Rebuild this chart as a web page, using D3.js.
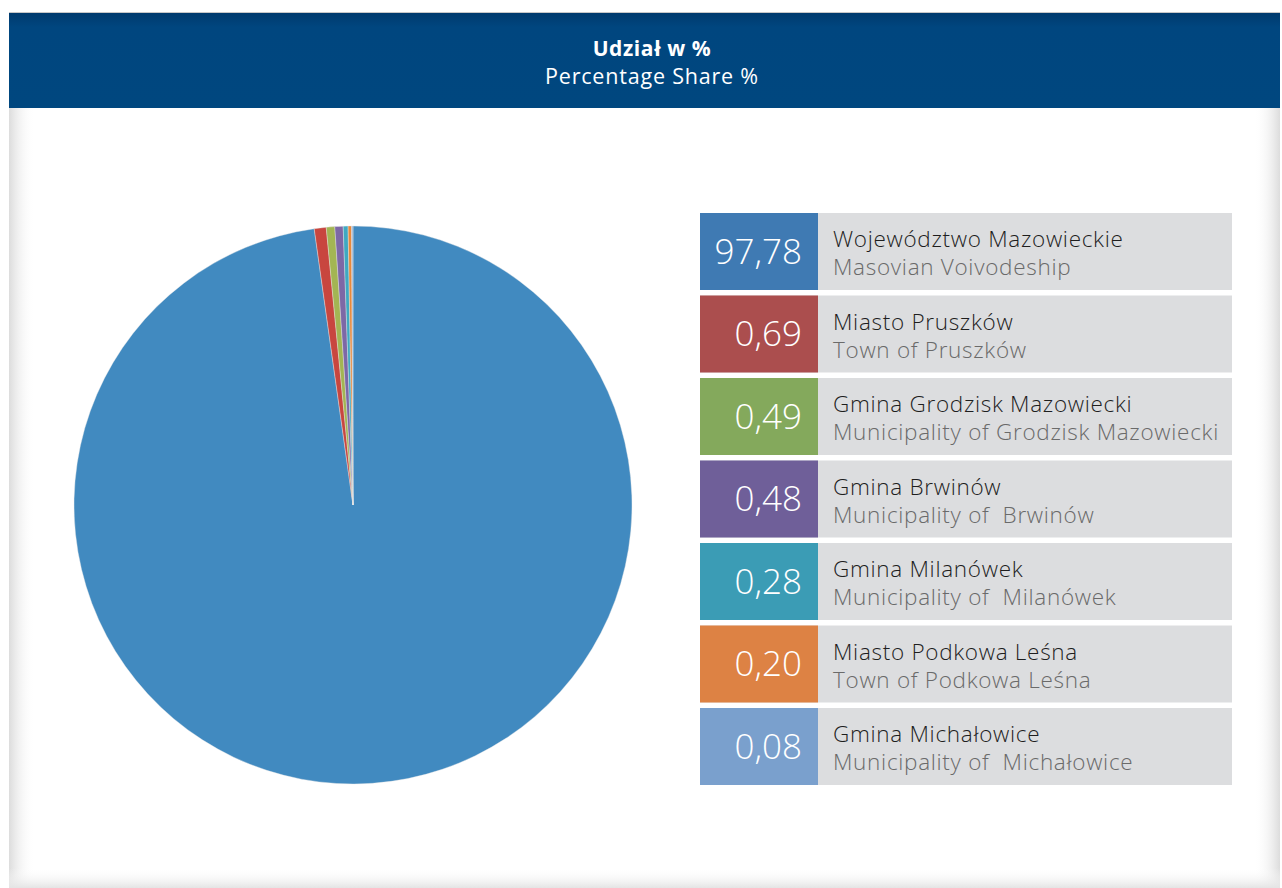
<!DOCTYPE html>
<html>
<head>
<meta charset="utf-8">
<script src="https://cdn.jsdelivr.net/npm/d3@7"></script>
<style>
  html, body { margin: 0; padding: 0; background: #fff; }
  svg { display: block; }
  text { white-space: pre; }
</style>
</head>
<body>
<svg id="chart" width="1282" height="888"></svg>
<script>
const titlePl = "Udział w %";
const titleEn = "Percentage Share %";
const namesPl = ["Województwo Mazowieckie", "Miasto Pruszków", "Gmina Grodzisk Mazowiecki", "Gmina Brwinów", "Gmina Milanówek", "Miasto Podkowa Leśna", "Gmina Michałowice"];
const namesEn = ["Masovian Voivodeship", "Town of Pruszków", "Municipality of Grodzisk Mazowiecki", "Municipality of  Brwinów", "Municipality of  Milanówek", "Town of Podkowa Leśna", "Municipality of  Michałowice"];
const shares = [97.78, 0.69, 0.49, 0.48, 0.28, 0.20, 0.08];
const pieColors = ["#418ac0", "#c8463f", "#a3b553", "#7d68a6", "#3fa9c2", "#e8893b", "#9db6d6"];
const boxColors = ["#3f7ab3", "#ab4e4e", "#84a95c", "#6f5f99", "#3b9cb5", "#dd8244", "#7aa0cd"];

const svg = d3.select("#chart");
const defs = svg.append("defs");

// card shadows
const gl = defs.append("linearGradient").attr("id", "gl").attr("x1", 0).attr("x2", 1).attr("y1", 0).attr("y2", 0);
gl.append("stop").attr("offset", 0).attr("stop-color", "#dcdcdc");
gl.append("stop").attr("offset", 1).attr("stop-color", "#ffffff").attr("stop-opacity", 0);
const gr = defs.append("linearGradient").attr("id", "gr").attr("x1", 1).attr("x2", 0).attr("y1", 0).attr("y2", 0);
gr.append("stop").attr("offset", 0).attr("stop-color", "#dcdcdc");
gr.append("stop").attr("offset", 1).attr("stop-color", "#ffffff").attr("stop-opacity", 0);
const gb = defs.append("linearGradient").attr("id", "gb").attr("x1", 0).attr("x2", 0).attr("y1", 1).attr("y2", 0);
gb.append("stop").attr("offset", 0).attr("stop-color", "#e4e4e4");
gb.append("stop").attr("offset", 1).attr("stop-color", "#ffffff").attr("stop-opacity", 0);
const gh = defs.append("linearGradient").attr("id", "gh").attr("x1", 0).attr("x2", 0).attr("y1", 0).attr("y2", 1);
gh.append("stop").attr("offset", 0).attr("stop-color", "#003a6e");
gh.append("stop").attr("offset", 0.15).attr("stop-color", "#00467f");
gh.append("stop").attr("offset", 1).attr("stop-color", "#00477f");

const cardX = 9, cardR = 1280, cardTop = 13, headB = 108, cardB = 888;
svg.append("rect").attr("x", cardX).attr("y", cardTop).attr("width", cardR - cardX).attr("height", cardB - cardTop).attr("fill", "#fff");
svg.append("rect").attr("x", cardX).attr("y", headB).attr("width", 26).attr("height", cardB - headB).attr("fill", "url(#gl)");
svg.append("rect").attr("x", cardR - 26).attr("y", headB).attr("width", 26).attr("height", cardB - headB).attr("fill", "url(#gr)");
svg.append("rect").attr("x", cardX).attr("y", cardB - 20).attr("width", cardR - cardX).attr("height", 20).attr("fill", "url(#gb)");
svg.append("line").attr("x1", cardX).attr("x2", cardR).attr("y1", cardTop - 0.5).attr("y2", cardTop - 0.5).attr("stroke", "#c8c8c8");
svg.append("rect").attr("x", cardX).attr("y", cardTop).attr("width", cardR - cardX).attr("height", headB - cardTop).attr("fill", "url(#gh)");

svg.append("text").attr("x", 652).attr("y", 56).attr("text-anchor", "middle")
  .attr("font-family", "Open Sans, sans-serif").attr("font-weight", 700).attr("font-size", 21).attr("letter-spacing", 0.6).attr("fill", "#fff").text(titlePl);
svg.append("text").attr("x", 652).attr("y", 84).attr("text-anchor", "middle")
  .attr("font-family", "Open Sans, sans-serif").attr("font-weight", 400).attr("font-size", 21.5).attr("letter-spacing", 0.8).attr("fill", "#fff").text(titleEn);

// pie
const cx = 353, cy = 505, r = 279;
const pie = d3.pie().sort(null).value(d => d)(shares);
const arc = d3.arc().innerRadius(0).outerRadius(r);
const g = svg.append("g").attr("transform", `translate(${cx},${cy})`);
g.selectAll("path").data(pie).join("path")
  .attr("d", arc)
  .attr("fill", (d, i) => pieColors[i])
  .attr("stroke", "#e8e8e8").attr("stroke-width", 0.4);

// legend
const rowY = d3.scaleBand().domain(d3.range(shares.length)).range([213, 785]).paddingInner(0.0667).paddingOuter(0);
const lx = 700, boxW = 118, lw = 532;
const fmt = v => d3.format(".2f")(v).replace(".", ",");
const rows = svg.append("g").selectAll("g").data(shares).join("g")
  .attr("transform", (d, i) => `translate(${lx},${rowY(i)})`);
rows.append("rect").attr("width", lw).attr("height", rowY.bandwidth()).attr("fill", "#dcdddf");
rows.append("rect").attr("width", boxW).attr("height", rowY.bandwidth()).attr("fill", (d, i) => boxColors[i]);
rows.append("text").attr("x", 102).attr("y", rowY.bandwidth() / 2 + 12.5).attr("text-anchor", "end")
  .attr("font-family", "Open Sans, sans-serif").attr("font-weight", 300).attr("font-size", 35).attr("fill", "#fff")
  .text(d => fmt(d));
rows.append("text").attr("x", 133).attr("y", 34)
  .attr("font-family", "Open Sans, sans-serif").attr("font-weight", 300).attr("font-size", 22.5).attr("letter-spacing", 0.7).attr("fill", "#1e1e1e")
  .text((d, i) => namesPl[i]);
rows.append("text").attr("x", 133).attr("y", 62)
  .attr("font-family", "Open Sans, sans-serif").attr("font-weight", 300).attr("font-size", 22.5).attr("letter-spacing", 0.7).attr("fill", "#6a6a6a")
  .text((d, i) => namesEn[i]);
</script>
</body>
</html>
